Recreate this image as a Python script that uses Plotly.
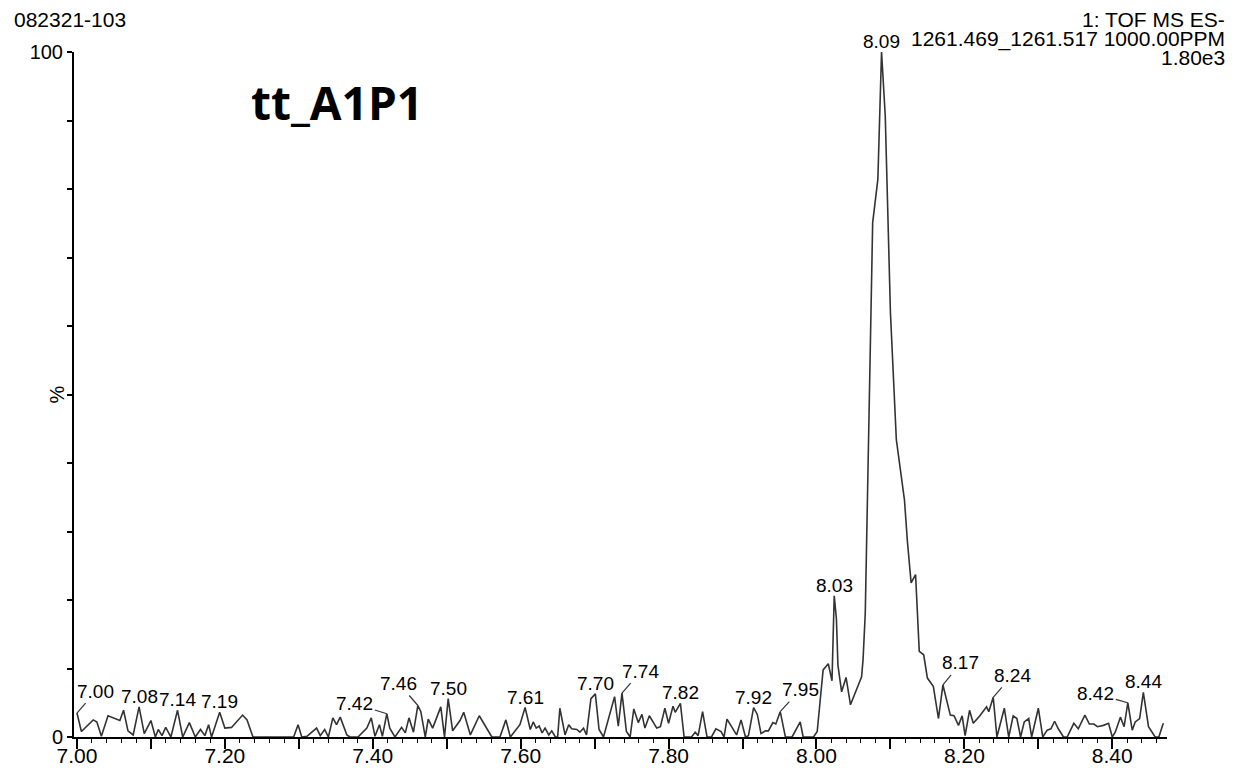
import plotly.graph_objects as go

# Retention time (min) and relative intensity (%)
rt = [7.000, 7.006, 7.022, 7.027, 7.033, 7.042, 7.058, 7.063, 7.069, 7.076,
      7.084, 7.091, 7.100, 7.106, 7.110, 7.115, 7.120, 7.127, 7.136, 7.143,
      7.152, 7.160, 7.167, 7.173, 7.178, 7.182, 7.193, 7.200, 7.209, 7.224,
      7.230, 7.238, 7.293, 7.299, 7.304, 7.311, 7.324, 7.329, 7.335, 7.340,
      7.346, 7.351, 7.356, 7.365,
      7.369, 7.380, 7.392, 7.398, 7.403, 7.409, 7.413, 7.419, 7.423, 7.430,
      7.439, 7.444, 7.449, 7.455, 7.461, 7.465, 7.471, 7.475, 7.481, 7.492,
      7.497, 7.502, 7.508, 7.518, 7.523, 7.532, 7.544, 7.561, 7.572, 7.580,
      7.586, 7.599, 7.606, 7.613, 7.617, 7.621, 7.625, 7.629, 7.633, 7.638,
      7.642, 7.647, 7.650, 7.653, 7.660, 7.665, 7.669, 7.676, 7.680, 7.685,
      7.689, 7.695, 7.701, 7.706, 7.712, 7.727, 7.732, 7.737,
      7.743, 7.748, 7.753, 7.759, 7.764, 7.768, 7.774, 7.784, 7.789, 7.795,
      7.800, 7.806, 7.809, 7.816, 7.821, 7.831, 7.836, 7.840, 7.846, 7.852,
      7.858, 7.864, 7.871, 7.875, 7.879, 7.892, 7.898, 7.904, 7.908, 7.915,
      7.920, 7.925, 7.931, 7.935, 7.941, 7.945, 7.951, 7.958, 7.967, 7.978,
      7.982, 7.996,
      8.001, 8.009, 8.016, 8.021, 8.024, 8.027, 8.029, 8.034, 8.040, 8.046,
      8.061, 8.063, 8.066, 8.071, 8.076, 8.083, 8.088, 8.093, 8.100, 8.108,
      8.113, 8.119, 8.123, 8.128, 8.134, 8.139, 8.145, 8.150, 8.158, 8.165,
      8.171,
      8.176, 8.181, 8.186, 8.192, 8.197, 8.201, 8.207, 8.212, 8.221, 8.230,
      8.233, 8.239, 8.244, 8.254, 8.260, 8.266, 8.271, 8.276, 8.281, 8.287,
      8.291, 8.300, 8.306, 8.312, 8.317, 8.322, 8.327, 8.334, 8.339, 8.348,
      8.354, 8.363, 8.369, 8.375, 8.380, 8.388, 8.395, 8.400, 8.404, 8.411,
      8.416, 8.421, 8.427, 8.431, 8.437, 8.442, 8.449, 8.458, 8.463, 8.469]

intensity = [3.5, 0.8, 2.5, 2.2, 0.1, 3.1, 2.4, 3.9, 0.9, 0.3,
             4.4, 0.5, 2.4, 0.0, 1.1, 0.2, 1.4, 0.0, 3.9, 0.0,
             2.1, 0.0, 1.1, 0.2, 1.8, 0.0, 3.6, 1.3, 1.4, 3.2,
             2.5, 0.0, 0.0, 1.8, 0.0, 0.1, 1.3, 0.2, 1.1, 0.0,
             2.8, 1.8, 2.9, 0.3,
             0.0, 0.0, 1.3, 2.8, 0.1, 1.8, 0.1, 3.4, 1.3, 0.0,
             1.4, 0.6, 2.8, 0.7, 4.6, 3.7, 0.0, 2.6, 1.3, 4.4,
             0.0, 5.6, 0.9, 2.4, 3.6, 0.3, 3.1, 0.0, 0.0, 2.5,
             0.0, 1.8, 4.3, 1.1, 2.2, 1.3, 1.6, 0.6, 1.3, 0.3,
             0.9, 0.0, 0.0, 4.2, 0.3, 1.8, 1.2, 1.1, 0.7, 1.3,
             0.3, 5.6, 6.3, 1.1, 0.0, 5.9, 1.6, 6.4,
             0.8, 0.0, 4.1, 2.1, 3.3, 1.3, 3.1, 1.3, 1.5, 4.2,
             2.0, 4.5, 3.6, 4.9, 0.0, 0.0, 0.7, 0.2, 3.7, 0.0,
             0.0, 1.2, 0.8, 0.0, 2.6, 0.3, 2.5, 0.0, 0.2, 4.3,
             3.3, 0.5, 0.9, 0.9, 2.1, 1.9, 3.7, 0.0, 0.0, 2.2,
             0.0, 0.0,
             0.8, 9.8, 10.7, 8.2, 20.6, 17.2, 10.5, 6.6, 8.7, 4.7,
             8.8, 11.3, 18.1, 46.0, 75.1, 81.4, 100.0, 90.7, 62.0, 43.4,
             39.0, 34.6, 28.5, 22.5, 23.7, 12.5, 12.0, 8.6, 7.4, 2.7,
             7.6,
             5.2, 3.2, 3.1, 1.7, 3.1, 0.2, 3.9, 2.0, 3.1, 4.4,
             3.7, 5.8, 0.0, 4.2, 0.0, 3.1, 2.7, 0.0, 2.2, 2.7,
             0.0, 4.2, 0.0, 1.0, 1.2, 2.3, 1.2, 0.0, 0.0, 2.0,
             1.2, 3.2, 1.9, 1.9, 1.5, 1.7, 2.0, 0.0, 0.7, 2.9,
             1.5, 5.0, 1.0, 2.2, 2.7, 6.5, 1.5, 0.0, 0.0, 2.0]

peak_labels = ["7.00", "7.08", "7.14", "7.19", "7.42", "7.46", "7.50", "7.61",
               "7.70", "7.74", "7.82", "7.92", "7.95", "8.03", "8.09", "8.17",
               "8.24", "8.42", "8.44"]

x_tick_vals = [7.0, 7.1, 7.2, 7.3, 7.4, 7.5, 7.6, 7.7, 7.8, 7.9, 8.0, 8.1, 8.2, 8.3, 8.4]
x_tick_text = ["7.00", "", "7.20", "", "7.40", "", "7.60", "", "7.80", "", "8.00", "", "8.20", "", "8.40"]
y_tick_vals = [0, 10, 20, 30, 40, 50, 60, 70, 80, 90, 100]
y_tick_text = ["0", "", "", "", "", "", "", "", "", "", "100"]

header_left = "082321-103"
header_right = ["1: TOF MS ES-", "1261.469_1261.517 1000.00PPM", "1.80e3"]
sample_name = "tt_A1P1"

# leader-line offsets (pixels) for labels placed beside their peaks
leader_offsets = {"7.00": (19, -22), "7.42": (-32, -10), "7.46": (-19, -22),
                  "7.74": (19, -22), "7.95": (20, -22), "8.17": (18, -22),
                  "8.24": (19, -22), "8.42": (-32, -9)}

FONT = "Liberation Sans, Arial, sans-serif"
LINE = "#333333"

fig = go.Figure()
fig.add_trace(go.Scatter(x=rt, y=intensity, mode="lines",
                         line=dict(color=LINE, width=1.6), hoverinfo="skip",
                         showlegend=False))

annotations = []
for lab in peak_labels:
    v = float(lab)
    cand = [i for i, t in enumerate(rt) if abs(t - v) <= 0.008]
    i = max(cand, key=lambda k: intensity[k])
    if lab in leader_offsets:
        ax, ay = leader_offsets[lab]
        annotations.append(dict(x=rt[i], y=intensity[i], text=lab, showarrow=True,
                                ax=ax, ay=ay, arrowhead=0, arrowwidth=1.2,
                                arrowcolor=LINE, standoff=0,
                                font=dict(family=FONT, size=19, color="black")))
    else:
        annotations.append(dict(x=rt[i], y=intensity[i], text=lab, showarrow=False,
                                yanchor="bottom", yshift=-2,
                                font=dict(family=FONT, size=19, color="black")))

annotations.append(dict(xref="paper", yref="paper", x=-0.0567, y=1.0474,
                        xanchor="left", yanchor="middle", showarrow=False,
                        text=header_left, font=dict(family=FONT, size=21, color="black")))
for txt, yy in zip(header_right, [1.0477, 1.0193, 0.9915]):
    annotations.append(dict(xref="paper", yref="paper", x=1.0549, y=yy,
                            xanchor="right", yanchor="middle", showarrow=False,
                            text=txt, font=dict(family=FONT, size=21, color="black")))
annotations.append(dict(xref="paper", yref="paper", x=0.2406, y=0.927,
                        xanchor="center", yanchor="middle", showarrow=False,
                        text="<b>" + sample_name + "</b>",
                        font=dict(family="Open Sans, sans-serif", size=46, color="black")))
annotations.append(dict(xref="paper", yref="paper", x=-0.0151, y=0.5007,
                        xanchor="center", yanchor="middle", showarrow=False,
                        text="%", textangle=-90,
                        font=dict(family=FONT, size=20, color="black")))

fig.update_layout(
    width=1238, height=768,
    margin=dict(l=74, r=71, t=52, b=31),
    paper_bgcolor="white", plot_bgcolor="white",
    annotations=annotations,
    xaxis=dict(range=[6.996, 8.474], showgrid=False, zeroline=False,
               showline=True, linecolor="black", linewidth=2,
               ticks="outside", ticklen=10, tickwidth=1.5, tickcolor="black",
               tickvals=x_tick_vals, ticktext=x_tick_text,
               tickfont=dict(family=FONT, size=21, color="black"),
               ticklabelstandoff=-11,
               minor=dict(dtick=0.02, tick0=7.0, ticks="outside", ticklen=4,
                          tickwidth=1.2, tickcolor="black", showgrid=False),
               automargin=False),
    yaxis=dict(range=[0, 100], showgrid=False, zeroline=False,
               showline=True, linecolor="black", linewidth=2,
               ticks="outside", ticklen=5, tickwidth=1.5, tickcolor="black",
               tickvals=y_tick_vals, ticktext=y_tick_text,
               tickfont=dict(family=FONT, size=20, color="black"),
               automargin=False),
)

fig.write_html("out.html", config={"displayModeBar": False},
               post_script="document.body.style.margin='0';document.body.style.overflow='hidden';")
